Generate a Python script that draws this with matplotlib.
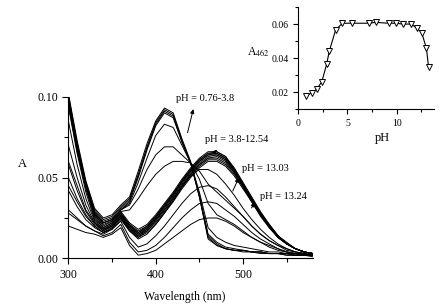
import numpy as np
import matplotlib
matplotlib.use('Agg')
import matplotlib.pyplot as plt
from matplotlib.ticker import MultipleLocator, FormatStrFormatter

plt.rcParams['font.family'] = ['Liberation Serif', 'DejaVu Serif']
plt.rcParams['mathtext.fontset'] = 'stix'

# wavelength grid (nm)
wl = [300, 310, 320, 330, 340, 350, 360, 370, 380, 390, 400, 410, 420, 430, 440,
      450, 460, 470, 480, 490, 500, 510, 520, 530, 540, 550, 560, 570, 580]

# acid spectra, pH 0.76-3.8
acid_curves = [
    [0.102, 0.073, 0.048, 0.031, 0.025, 0.027, 0.033, 0.038, 0.054, 0.071, 0.085, 0.093, 0.090, 0.074, 0.060,
     0.038, 0.012, 0.008, 0.006, 0.005, 0.005, 0.004, 0.004, 0.003, 0.003, 0.003, 0.002, 0.002, 0.002],
    [0.101, 0.071, 0.047, 0.030, 0.024, 0.026, 0.032, 0.037, 0.052, 0.069, 0.084, 0.092, 0.089, 0.073, 0.059,
     0.038, 0.013, 0.008, 0.006, 0.005, 0.004, 0.004, 0.003, 0.003, 0.003, 0.002, 0.002, 0.002, 0.001],
    [0.100, 0.070, 0.046, 0.029, 0.023, 0.025, 0.031, 0.036, 0.051, 0.068, 0.083, 0.091, 0.088, 0.072, 0.059,
     0.039, 0.014, 0.009, 0.006, 0.005, 0.005, 0.004, 0.004, 0.003, 0.003, 0.002, 0.002, 0.002, 0.002],
    [0.099, 0.069, 0.045, 0.028, 0.022, 0.024, 0.030, 0.035, 0.050, 0.067, 0.082, 0.090, 0.087, 0.072, 0.059,
     0.039, 0.015, 0.010, 0.007, 0.006, 0.005, 0.004, 0.004, 0.003, 0.003, 0.003, 0.002, 0.002, 0.002],
    [0.098, 0.068, 0.045, 0.028, 0.022, 0.024, 0.030, 0.034, 0.047, 0.062, 0.076, 0.083, 0.081, 0.070, 0.059,
     0.041, 0.019, 0.013, 0.010, 0.008, 0.007, 0.006, 0.005, 0.004, 0.004, 0.003, 0.003, 0.002, 0.002],
]

# curves in between (around pH 3-4)
mid_curves = [
    [0.097, 0.068, 0.045, 0.028, 0.022, 0.024, 0.030, 0.033, 0.043, 0.055, 0.064, 0.069, 0.069, 0.064, 0.059,
     0.049, 0.034, 0.027, 0.024, 0.021, 0.017, 0.013, 0.010, 0.008, 0.006, 0.004, 0.003, 0.003, 0.002],
    [0.095, 0.066, 0.044, 0.027, 0.021, 0.023, 0.029, 0.030, 0.037, 0.045, 0.052, 0.057, 0.060, 0.060, 0.059,
     0.054, 0.046, 0.041, 0.036, 0.031, 0.026, 0.020, 0.015, 0.011, 0.008, 0.006, 0.004, 0.003, 0.002],
]

# pH 3.8-12.54
base_curves = [
    [0.100, 0.071, 0.046, 0.027, 0.020, 0.023, 0.029, 0.022, 0.018, 0.021, 0.027, 0.034, 0.041, 0.049, 0.056,
     0.062, 0.066, 0.066, 0.063, 0.056, 0.047, 0.038, 0.029, 0.021, 0.014, 0.009, 0.006, 0.004, 0.003],
    [0.100, 0.070, 0.045, 0.026, 0.019, 0.022, 0.028, 0.021, 0.017, 0.020, 0.026, 0.033, 0.040, 0.048, 0.055,
     0.061, 0.065, 0.066, 0.063, 0.055, 0.046, 0.037, 0.028, 0.021, 0.014, 0.009, 0.006, 0.004, 0.003],
    [0.098, 0.068, 0.043, 0.025, 0.019, 0.022, 0.028, 0.021, 0.016, 0.020, 0.026, 0.033, 0.040, 0.048, 0.055,
     0.061, 0.065, 0.065, 0.062, 0.055, 0.046, 0.037, 0.028, 0.020, 0.014, 0.009, 0.006, 0.004, 0.003],
    [0.094, 0.065, 0.041, 0.024, 0.018, 0.021, 0.027, 0.020, 0.016, 0.019, 0.025, 0.032, 0.039, 0.047, 0.054,
     0.060, 0.064, 0.065, 0.062, 0.055, 0.046, 0.037, 0.028, 0.021, 0.014, 0.010, 0.006, 0.004, 0.003],
    [0.085, 0.058, 0.037, 0.023, 0.018, 0.021, 0.027, 0.020, 0.015, 0.019, 0.025, 0.032, 0.039, 0.047, 0.054,
     0.060, 0.064, 0.064, 0.061, 0.054, 0.045, 0.036, 0.028, 0.020, 0.014, 0.009, 0.006, 0.004, 0.003],
    [0.070, 0.050, 0.033, 0.022, 0.017, 0.020, 0.026, 0.019, 0.015, 0.018, 0.024, 0.031, 0.038, 0.046, 0.053,
     0.059, 0.063, 0.064, 0.061, 0.054, 0.045, 0.036, 0.027, 0.020, 0.013, 0.009, 0.006, 0.004, 0.003],
    [0.058, 0.042, 0.029, 0.021, 0.017, 0.020, 0.026, 0.019, 0.014, 0.018, 0.024, 0.030, 0.037, 0.045, 0.052,
     0.058, 0.062, 0.063, 0.060, 0.053, 0.045, 0.036, 0.027, 0.020, 0.013, 0.009, 0.006, 0.004, 0.003],
    [0.050, 0.037, 0.027, 0.020, 0.016, 0.019, 0.025, 0.018, 0.014, 0.017, 0.023, 0.030, 0.037, 0.045, 0.052,
     0.058, 0.062, 0.062, 0.059, 0.053, 0.044, 0.035, 0.027, 0.020, 0.013, 0.009, 0.006, 0.004, 0.003],
    [0.042, 0.032, 0.024, 0.019, 0.016, 0.019, 0.025, 0.018, 0.013, 0.017, 0.022, 0.029, 0.036, 0.044, 0.051,
     0.057, 0.061, 0.061, 0.058, 0.052, 0.044, 0.035, 0.027, 0.019, 0.013, 0.009, 0.006, 0.004, 0.003],
    [0.030, 0.025, 0.020, 0.017, 0.015, 0.018, 0.024, 0.017, 0.013, 0.016, 0.021, 0.028, 0.035, 0.043, 0.050,
     0.056, 0.060, 0.060, 0.057, 0.051, 0.043, 0.035, 0.026, 0.019, 0.013, 0.009, 0.006, 0.004, 0.003],
]

# pH 13.03 / 13.24 and above
high_curves = [
    [0.060, 0.045, 0.030, 0.022, 0.018, 0.020, 0.025, 0.017, 0.012, 0.015, 0.021, 0.028, 0.036, 0.044, 0.051,
     0.055, 0.055, 0.052, 0.046, 0.039, 0.031, 0.024, 0.018, 0.013, 0.009, 0.006, 0.004, 0.003, 0.002],
    [0.045, 0.035, 0.026, 0.020, 0.016, 0.018, 0.023, 0.013, 0.007, 0.009, 0.014, 0.020, 0.027, 0.034, 0.040,
     0.044, 0.045, 0.043, 0.038, 0.032, 0.026, 0.020, 0.015, 0.011, 0.008, 0.005, 0.004, 0.003, 0.002],
    [0.028, 0.024, 0.020, 0.017, 0.014, 0.016, 0.021, 0.010, 0.004, 0.005, 0.008, 0.013, 0.019, 0.025, 0.030,
     0.034, 0.035, 0.034, 0.030, 0.026, 0.021, 0.016, 0.012, 0.009, 0.006, 0.004, 0.003, 0.002, 0.002],
    [0.020, 0.018, 0.016, 0.015, 0.013, 0.015, 0.019, 0.008, 0.002, 0.003, 0.005, 0.009, 0.013, 0.017, 0.021,
     0.024, 0.025, 0.025, 0.023, 0.020, 0.016, 0.013, 0.010, 0.007, 0.005, 0.004, 0.003, 0.002, 0.002],
]

# inset: absorbance at 462 nm vs pH
ph = [0.76, 1.4, 1.87, 2.4, 2.9, 3.16, 3.8, 4.5, 5.5, 7.2, 7.86, 9.2, 9.9, 10.65, 11.5, 12.07, 12.54, 13.03, 13.24]
a462 = [0.0176, 0.0196, 0.0216, 0.026, 0.0365, 0.044, 0.0565, 0.0605, 0.0605, 0.0605, 0.061, 0.0605, 0.0605,
        0.060, 0.060, 0.0575, 0.055, 0.0457, 0.0349]

labels = ['pH = 0.76-3.8', 'pH = 3.8-12.54', 'pH = 13.03', 'pH = 13.24']
label_pos = [(423, 0.0989), (456.5, 0.0736), (498.4, 0.0555), (519.4, 0.0384)]
arrow_tail = [(435.7, 0.0761), (465.8, 0.0648), (486.9, 0.0401), (507.9, 0.0298)]
arrow_head = [(443.8, 0.094), (472.4, 0.0685), (496.4, 0.0514), (515.6, 0.036)]

fig = plt.figure(figsize=(4.47, 3.08), dpi=100)
ax = fig.add_axes([0.153, 0.161, 0.547, 0.525])

for c in acid_curves + mid_curves + base_curves + high_curves:
    ax.plot(wl, c, color='black', lw=0.7)

ax.set_xlim(300, 580)
ax.set_ylim(0, 0.1)
for s in ['top', 'right']:
    ax.spines[s].set_visible(False)
ax.xaxis.set_major_locator(MultipleLocator(100))
ax.xaxis.set_minor_locator(MultipleLocator(50))
ax.yaxis.set_major_locator(MultipleLocator(0.05))
ax.yaxis.set_minor_locator(MultipleLocator(0.025))
ax.yaxis.set_major_formatter(FormatStrFormatter('%.2f'))
ax.tick_params(which='both', direction='out', labelsize=8.5, width=0.8)
ax.tick_params(which='major', length=4)
ax.tick_params(which='minor', length=3)

for txt, p, t, h in zip(labels, label_pos, arrow_tail, arrow_head):
    ax.text(p[0], p[1], txt, fontsize=7.5, va='center', ha='left')
    ax.annotate('', xy=h, xytext=t,
                arrowprops=dict(arrowstyle='-|>', color='black', lw=0.7, mutation_scale=6))

fig.text(22 / 447, 1 - 164 / 308, 'A', fontsize=9, ha='center', va='center')
fig.text(185 / 447, 1 - 297 / 308, 'Wavelength (nm)', fontsize=8.5, ha='center', va='center')

# inset
ins = fig.add_axes([0.667, 0.646, 0.304, 0.331])
ins.plot(ph, a462, color='black', lw=0.8, marker='v', markersize=5,
         markerfacecolor='white', markeredgecolor='black', markeredgewidth=0.7)
ins.set_xlim(0, 13.8)
ins.set_ylim(0.01, 0.07)
for s in ['top', 'right']:
    ins.spines[s].set_visible(False)
ins.xaxis.set_major_locator(MultipleLocator(5))
ins.xaxis.set_minor_locator(MultipleLocator(2.5))
ins.yaxis.set_major_locator(MultipleLocator(0.02))
ins.yaxis.set_minor_locator(MultipleLocator(0.01))
ins.yaxis.set_major_formatter(FormatStrFormatter('%.2f'))
ins.tick_params(which='both', direction='out', labelsize=7, width=0.8)
ins.tick_params(which='major', length=3.5)
ins.tick_params(which='minor', length=2.5)

fig.text(258 / 447, 1 - 52 / 308, r'A$_{462}$', fontsize=8.5, ha='center', va='center')
fig.text(382 / 447, 1 - 138 / 308, 'pH', fontsize=9, ha='center', va='center')

plt.savefig('out.png', dpi=100)
